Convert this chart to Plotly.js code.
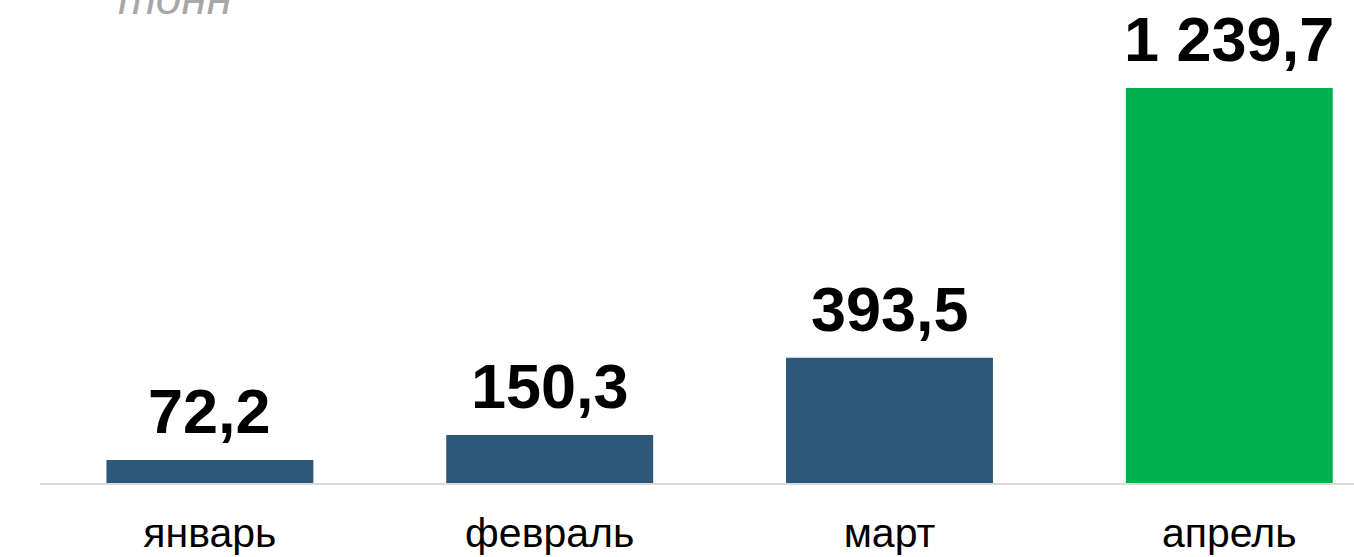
<!DOCTYPE html>
<html>
<head>
<meta charset="utf-8">
<script src="https://cdn.plot.ly/plotly-3.0.1.min.js"></script>
<style>
html,body{margin:0;padding:0;background:#fff;}
#chart{width:1354px;height:557px;}
</style>
</head>
<body>
<div id="chart"></div>
<script>
const categories = ['январь', 'февраль', 'март', 'апрель'];
const values = [72.2, 150.3, 393.5, 1239.7];
const barColors = ['#2E5879', '#2E5879', '#2E5879', '#00B050'];
const unitLabel = 'тонн';

function fmt(v) {
  const parts = v.toFixed(1).split('.');
  const intPart = parts[0].replace(/\B(?=(\d{3})+(?!\d))/g, ' ');
  return intPart + ',' + parts[1];
}

const trace = {
  type: 'bar',
  x: categories,
  y: values,
  marker: {color: barColors},
  hoverinfo: 'none'
};

const annotations = values.map((v, i) => ({
  x: categories[i], y: v, xref: 'x', yref: 'y',
  text: fmt(v), showarrow: false,
  yanchor: 'bottom', yshift: 12,
  font: {family: 'Liberation Sans, Arial, sans-serif', size: 63, color: '#000', weight: 'bold'}
}));
annotations.push({
  xref: 'paper', yref: 'paper', x: 0.0575, y: 1.0, xanchor: 'left', yanchor: 'bottom',
  yshift: -26,
  text: '<i>' + unitLabel + '</i>', showarrow: false,
  font: {family: 'Liberation Sans, Arial, sans-serif', size: 46, color: '#A9A6A7'}
});

const layout = {
  width: 1354, height: 557,
  margin: {l: 40, r: 0, t: 0, b: 74},
  paper_bgcolor: '#fff', plot_bgcolor: '#fff',
  bargap: 0.391,
  showlegend: false,
  xaxis: {
    type: 'category',
    range: [-0.5, 3.367],
    showgrid: false, zeroline: false,
    showline: true, linecolor: '#D9D9D9', linewidth: 2,
    ticks: '', ticklabelstandoff: 13,
    tickfont: {family: 'Liberation Sans, Arial, sans-serif', size: 41, color: '#000'}
  },
  yaxis: {
    range: [0, 1516],
    visible: false, showgrid: false, zeroline: false
  },
  annotations: annotations
};

Plotly.newPlot('chart', [trace], layout, {displayModeBar: false, staticPlot: true});
</script>
</body>
</html>
